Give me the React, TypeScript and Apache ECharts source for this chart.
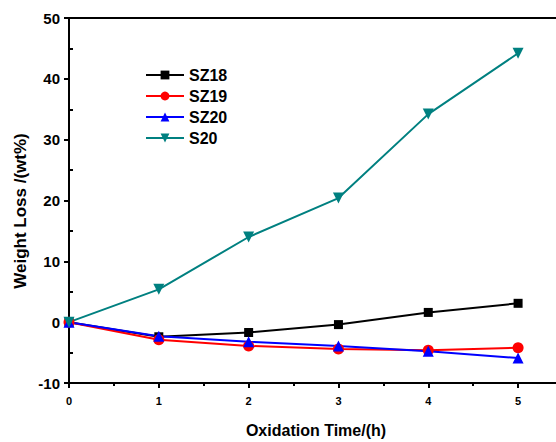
import React, { useEffect, useRef } from "react";
import * as echarts from "echarts";

const times = [0, 1, 2, 3, 4, 5];
const sz18 = [0, -2.4, -1.7, -0.4, 1.6, 3.1];
const sz19 = [0, -2.9, -3.9, -4.4, -4.6, -4.2];
const sz20 = [0, -2.3, -3.2, -3.9, -4.8, -5.9];
const s20 = [0, 5.4, 14.0, 20.4, 34.2, 44.2];
const seriesNames = ["SZ18", "SZ19", "SZ20", "S20"];
const xTitle = "Oxidation Time/(h)";
const yTitle = "Weight Loss /(wt%)";

const FONT = "Liberation Sans, Arial, sans-serif";

export default function App() {
  const ref = useRef<HTMLDivElement>(null);
  useEffect(() => {
    if (!ref.current) return;
    const chart = echarts.init(ref.current, null, { renderer: "svg" });
    const pair = (arr: number[]) => times.map((t, i) => [t, arr[i]]);
    const mk = (name: string, data: number[], color: string, symbol: string, size: number) => ({
      name,
      type: "line",
      data: pair(data),
      symbol,
      symbolSize: size,
      showAllSymbol: true,
      lineStyle: { color, width: 2 },
      itemStyle: { color },
      xAxisIndex: 0,
      yAxisIndex: 0,
      z: 3,
    });
    chart.setOption({
      animation: false,
      backgroundColor: "#fff",
      grid: {
        left: 69,
        top: 18,
        width: 494,
        height: 365,
        containLabel: false,
        outerBoundsMode: "none",
      },
      legend: {
        orient: "vertical",
        left: 145,
        top: 67,
        padding: 0,
        itemWidth: 38,
        itemHeight: 11,
        itemGap: 5,
        data: seriesNames,
        textStyle: { fontFamily: FONT, fontWeight: "bold", fontSize: 16, color: "#000" },
      },
      xAxis: [
        {
          type: "value",
          min: 0,
          max: 5.5,
          interval: 1,
          position: "bottom",
          splitLine: { show: false },
          axisLine: { onZero: false, lineStyle: { color: "#000", width: 2 } },
          axisTick: { length: 5, lineStyle: { color: "#000", width: 2 } },
          minorTick: { show: true, splitNumber: 2, length: 3, lineStyle: { color: "#000", width: 2 } },
          axisLabel: {
            fontFamily: FONT,
            fontWeight: "bold",
            fontSize: 11,
            color: "#000",
            margin: 12,
            formatter: (v: number) => (v <= 5 ? String(v) : ""),
          },
        },
        {
          type: "value",
          min: 0,
          max: 5.5,
          position: "top",
          splitLine: { show: false },
          axisLine: { onZero: false, lineStyle: { color: "#000", width: 2 } },
          axisTick: { show: false },
          axisLabel: { show: false },
        },
      ],
      yAxis: [
        {
          type: "value",
          min: -10,
          max: 50,
          interval: 10,
          splitLine: { show: false },
          axisLine: { onZero: false, lineStyle: { color: "#000", width: 2 } },
          axisTick: { length: 5, lineStyle: { color: "#000", width: 2 } },
          axisLabel: {
            fontFamily: FONT,
            fontWeight: "bold",
            fontSize: 15,
            color: "#000",
            margin: 9,
          },
        },
        {
          type: "value",
          min: -10,
          max: 50,
          position: "left",
          splitLine: { show: false },
          axisLine: { show: false, onZero: false },
          axisTick: {
            inside: true,
            length: 4,
            customValues: [-5, 5, 15, 25, 35, 45],
            lineStyle: { color: "#000", width: 2 },
          },
          axisLabel: { show: false },
        },
      ],
      graphic: [
        {
          type: "text",
          x: 316,
          y: 430,
          style: {
            text: xTitle,
            fontFamily: FONT,
            fontWeight: "bold",
            fontSize: 16,
            fill: "#000",
            align: "center",
            verticalAlign: "middle",
          },
        },
        {
          type: "text",
          x: 20,
          y: 211,
          rotation: Math.PI / 2,
          style: {
            text: yTitle,
            fontFamily: FONT,
            fontWeight: "bold",
            fontSize: 17,
            fill: "#000",
            align: "center",
            verticalAlign: "middle",
          },
        },
      ],
      series: [
        mk(seriesNames[0], sz18, "#000000", "rect", 9),
        mk(seriesNames[1], sz19, "#ff0000", "circle", 11),
        mk(seriesNames[2], sz20, "#0000ff", "triangle", 11),
        { ...mk(seriesNames[3], s20, "#008080", "triangle", 11), symbolRotate: 180 },
      ],
    });
    return () => chart.dispose();
  }, []);
  return (
    <div
      ref={ref}
      style={{ position: "fixed", left: 0, top: 0, width: 556, height: 442, background: "#fff" }}
    />
  );
}
